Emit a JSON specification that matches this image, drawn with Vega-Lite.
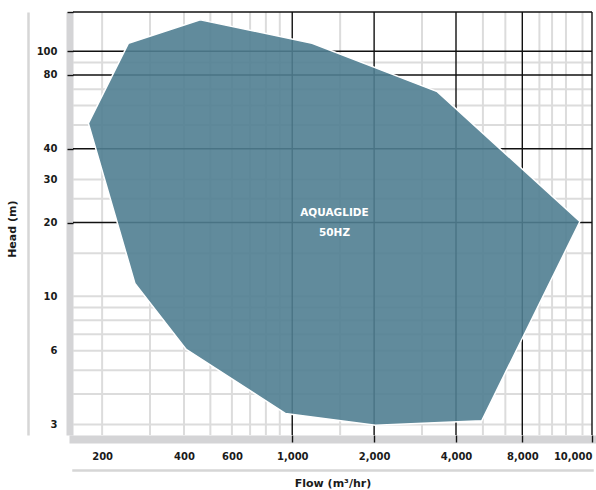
{
  "$schema": "https://vega.github.io/schema/vega-lite/v6.json",
  "width": 519,
  "height": 423,
  "autosize": {"type": "none"},
  "padding": {"left": 73, "top": 12, "right": 4, "bottom": 55},
  "background": "white",
  "datasets": {
    "grayX": [{"flow": 200}, {"flow": 300}, {"flow": 400}, {"flow": 500}, {"flow": 600}, {"flow": 700}, {"flow": 800}, {"flow": 900}, {"flow": 1500}, {"flow": 3000}, {"flow": 5300}, {"flow": 6700}, {"flow": 8450}, {"flow": 8800}, {"flow": 9200}, {"flow": 9700}],
    "grayY": [{"head": 3}, {"head": 4}, {"head": 5}, {"head": 6}, {"head": 7}, {"head": 8}, {"head": 9}, {"head": 10}, {"head": 15}, {"head": 25}, {"head": 30}, {"head": 50}, {"head": 60}, {"head": 70}, {"head": 90}],
    "blackX": [{"flow": 1000}, {"flow": 2000}, {"flow": 4000}, {"flow": 8000}, {"flow": 10000}],
    "blackY": [{"head": 20}, {"head": 40}, {"head": 80}, {"head": 100}, {"head": 144.5}],
    "envelope": [
      {"i": 1, "flow": 459, "head": 134.2},
      {"i": 2, "flow": 1183, "head": 107.8},
      {"i": 3, "flow": 3413, "head": 68.4},
      {"i": 4, "flow": 9620, "head": 20.2},
      {"i": 5, "flow": 5233, "head": 3.11},
      {"i": 6, "flow": 2023, "head": 2.98},
      {"i": 7, "flow": 943, "head": 3.33},
      {"i": 8, "flow": 407.5, "head": 6.08},
      {"i": 9, "flow": 264, "head": 11.3},
      {"i": 10, "flow": 178, "head": 50.8},
      {"i": 11, "flow": 250, "head": 107.8}
    ],
    "labels": [
      {"flow": 1430, "head": 21.9, "label": "AQUAGLIDE"},
      {"flow": 1430, "head": 18.1, "label": "50HZ"}
    ]
  },
  "resolve": {"axis": {"x": "independent", "y": "independent"}},
  "layer": [
    {
      "data": {"name": "grayX"},
      "mark": {"type": "rule", "color": "#dcdcdc", "strokeWidth": 2},
      "encoding": {
        "x": {
          "field": "flow", "type": "quantitative",
          "scale": {"type": "log", "domain": [156.3, 4000, 8000, 10000], "range": [0, 383, 449.3, 519], "nice": false},
          "axis": {"orient": "bottom", "offset": 4, "domain": true, "domainColor": "#d4d4d6", "domainWidth": 8, "domainCap": "square", "ticks": false, "tickSize": 0, "grid": false, "values": [200, 400, 600, 1000, 2000, 4000, 8000, 10000], "format": ",d", "labelPadding": 12, "labelFlush": true, "labelOverlap": false, "title": null}
        }
      }
    },
    {
      "data": {"name": "grayY"},
      "mark": {"type": "rule", "color": "#dcdcdc", "strokeWidth": 2},
      "encoding": {
        "y": {
          "field": "head", "type": "quantitative",
          "scale": {"type": "log", "domain": [2.72, 144.5], "nice": false},
          "axis": {"orient": "left", "offset": 3.5, "domain": true, "domainColor": "#d4d4d6", "domainWidth": 7, "ticks": false, "tickSize": 0, "grid": false, "values": [3, 6, 10, 20, 30, 40, 80, 100], "format": "d", "labelPadding": 12.5, "labelFlush": false, "labelOverlap": false, "title": null}
        }
      }
    },
    {
      "data": {"name": "blackX"},
      "mark": {"type": "rule", "color": "#111111", "strokeWidth": 1.4},
      "encoding": {
        "x": {
          "field": "flow", "type": "quantitative",
          "scale": {"type": "log", "domain": [156.3, 4000, 8000, 10000], "range": [0, 383, 449.3, 519], "nice": false},
          "axis": {"orient": "bottom", "offset": 0, "domain": false, "ticks": true, "tickSize": 7, "tickColor": "#111111", "tickWidth": 1.4, "labels": false, "grid": false, "values": [1000, 2000, 4000, 8000, 10000], "title": null, "zindex": 1}
        }
      }
    },
    {
      "data": {"name": "blackY"},
      "mark": {"type": "rule", "color": "#111111", "strokeWidth": 1.4},
      "encoding": {
        "y": {
          "field": "head", "type": "quantitative",
          "scale": {"type": "log", "domain": [2.72, 144.5], "nice": false},
          "axis": {"orient": "left", "offset": 0, "domain": false, "ticks": true, "tickSize": 6, "tickColor": "#111111", "tickWidth": 1.4, "labels": false, "grid": false, "values": [20, 40, 80, 100, 144.5], "title": null, "zindex": 1}
        }
      }
    },
    {
      "data": {"name": "envelope"},
      "mark": {"type": "line", "interpolate": "linear-closed", "fill": "#507e91", "fillOpacity": 0.9, "stroke": "white", "strokeWidth": 1.5, "strokeJoin": "miter"},
      "encoding": {
        "x": {
          "field": "flow", "type": "quantitative",
          "scale": {"type": "log", "domain": [156.3, 4000, 8000, 10000], "range": [0, 383, 449.3, 519], "nice": false},
          "axis": {"orient": "bottom", "offset": 35, "domain": true, "domainColor": "#d6d6d6", "domainWidth": 2.5, "domainCap": "square", "ticks": false, "labels": false, "grid": false, "values": [1000], "title": "Flow (m³/hr)", "titleY": 13.5, "titleBaseline": "middle"}
        },
        "y": {
          "field": "head", "type": "quantitative",
          "scale": {"type": "log", "domain": [2.72, 144.5], "nice": false},
          "axis": {"orient": "left", "offset": 45, "domain": true, "domainColor": "#d6d6d6", "domainWidth": 2.5, "ticks": false, "labels": false, "grid": false, "values": [10], "title": "Head (m)", "titleX": -16, "titleY": 216.7, "titleAngle": -90, "titleBaseline": "middle", "titleAlign": "center"}
        },
        "order": {"field": "i", "type": "quantitative"}
      }
    },
    {
      "data": {"name": "labels"},
      "mark": {"type": "text", "font": "DejaVu Sans", "fontWeight": "bold", "fontSize": 10.5, "color": "white", "baseline": "middle", "align": "center"},
      "encoding": {
        "x": {"field": "flow", "type": "quantitative", "axis": null},
        "y": {"field": "head", "type": "quantitative", "axis": null},
        "text": {"field": "label"}
      }
    }
  ],
  "config": {
    "view": {"stroke": null},
    "axis": {
      "labelFont": "DejaVu Sans",
      "labelFontWeight": "bold",
      "labelFontSize": 10,
      "labelColor": "#1a1a1a",
      "titleFont": "DejaVu Sans",
      "titleFontWeight": "bold",
      "titleFontSize": 11,
      "titleColor": "#1a1a1a"
    }
  }
}
